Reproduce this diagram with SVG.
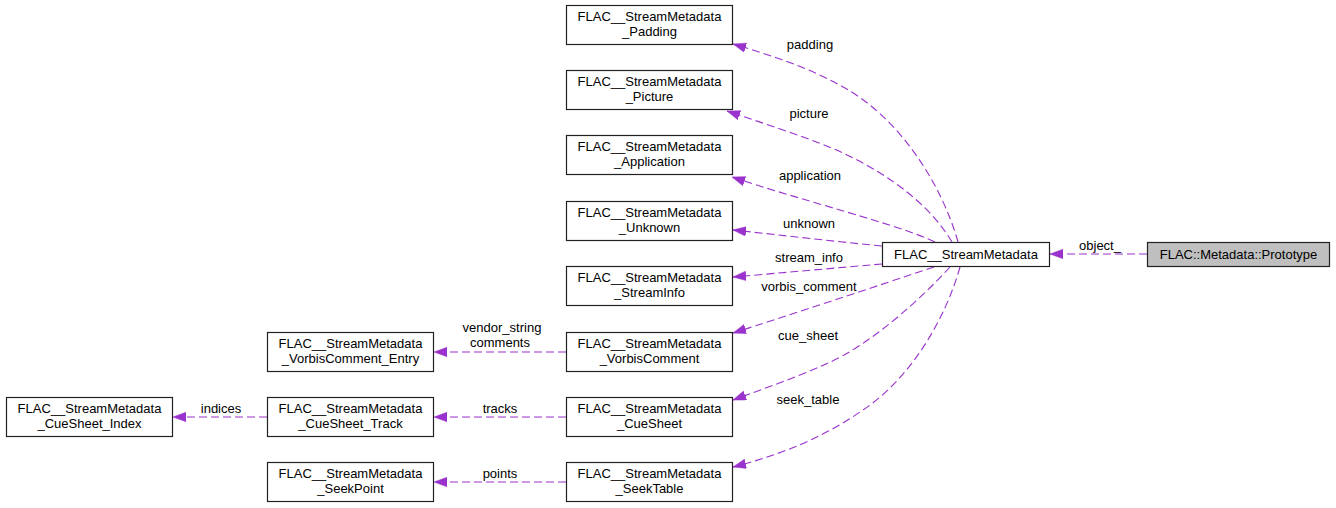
<svg xmlns="http://www.w3.org/2000/svg" width="1336" height="508" viewBox="0 0 1336 508">
<style>
text{font-family:"Liberation Sans",Arial,sans-serif;font-size:13px;fill:#000;text-anchor:middle}
.n rect{fill:#fff;stroke:#222;stroke-width:1.2}
.g rect{fill:#bfbfbf}
.e path{fill:none;stroke:#9a32cd;stroke-width:1.1;stroke-dasharray:8,4;marker-end:url(#arr)}
</style>
<defs>
<marker id="arr" markerUnits="userSpaceOnUse" markerWidth="14" markerHeight="10" refX="13" refY="4.75" orient="auto">
<path d="M0,0 L13,4.75 L0,9.5 z" fill="#9a32cd" stroke="#9a32cd" stroke-width="0.5"/>
</marker>
</defs>
<g id="connectors" class="e">
<path d="M1147,254 L1050,254"/>
<path d="M958,242 C942,185 900,118 843,87 C810,68 770,55 733,44"/>
<path d="M952,242 C930,205 890,175 843,153 C810,138 762,123 727,111"/>
<path d="M935,242 C900,225 800,200 732,177"/>
<path d="M882,246 C830,241 780,235 733,230"/>
<path d="M882,264 C835,268 780,273 733,277"/>
<path d="M934,267 C880,285 790,315 733,333"/>
<path d="M950,267 C920,300 870,345 826,364 C795,378 760,390 733,400"/>
<path d="M960,267 C945,320 910,380 860,412 C822,438 780,455 733,467"/>
<path d="M566,352 L434,352"/>
<path d="M566,417 L434,417"/>
<path d="M566,482 L434,482"/>
<path d="M267,417 L173,417"/>
</g>
<g id="edge-labels">
<text x="1100" y="250">object_</text>
<text x="810" y="49">padding</text>
<text x="809" y="118">picture</text>
<text x="810" y="180">application</text>
<text x="809" y="228">unknown</text>
<text x="809" y="262">stream_info</text>
<text x="809" y="291">vorbis_comment</text>
<text x="808" y="340">cue_sheet</text>
<text x="808" y="404">seek_table</text>
<text x="502" y="332">vendor_string</text>
<text x="500" y="347">comments</text>
<text x="500" y="413">tracks</text>
<text x="500" y="478">points</text>
<text x="221" y="413">indices</text>
</g>
<g id="node-prototype" class="n g"><rect x="1147.5" y="242.5" width="182" height="24"/><text x="1238.5" y="258.5">FLAC::Metadata::Prototype</text></g>
<g id="node-streammetadata" class="n"><rect x="882.5" y="242.5" width="167" height="24"/><text x="966" y="258.5">FLAC__StreamMetadata</text></g>
<g id="node-padding" class="n"><rect x="566.5" y="5.5" width="166" height="39"/><text x="649.5" y="20.5">FLAC__StreamMetadata</text><text x="649.5" y="35.5">_Padding</text></g>
<g id="node-picture" class="n"><rect x="566.5" y="70.5" width="166" height="39"/><text x="649.5" y="85.5">FLAC__StreamMetadata</text><text x="649.5" y="100.5">_Picture</text></g>
<g id="node-application" class="n"><rect x="566.5" y="135.5" width="166" height="39"/><text x="649.5" y="150.5">FLAC__StreamMetadata</text><text x="649.5" y="165.5">_Application</text></g>
<g id="node-unknown" class="n"><rect x="566.5" y="201.5" width="166" height="39"/><text x="649.5" y="216.5">FLAC__StreamMetadata</text><text x="649.5" y="231.5">_Unknown</text></g>
<g id="node-streaminfo" class="n"><rect x="566.5" y="266.5" width="166" height="39"/><text x="649.5" y="281.5">FLAC__StreamMetadata</text><text x="649.5" y="296.5">_StreamInfo</text></g>
<g id="node-vorbiscomment" class="n"><rect x="566.5" y="332.5" width="166" height="39"/><text x="649.5" y="347.5">FLAC__StreamMetadata</text><text x="649.5" y="362.5">_VorbisComment</text></g>
<g id="node-cuesheet" class="n"><rect x="566.5" y="397.5" width="166" height="39"/><text x="649.5" y="412.5">FLAC__StreamMetadata</text><text x="649.5" y="427.5">_CueSheet</text></g>
<g id="node-seektable" class="n"><rect x="566.5" y="462.5" width="166" height="39"/><text x="649.5" y="477.5">FLAC__StreamMetadata</text><text x="649.5" y="492.5">_SeekTable</text></g>
<g id="node-vorbiscomment-entry" class="n"><rect x="267.5" y="332.5" width="166" height="39"/><text x="350.5" y="347.5">FLAC__StreamMetadata</text><text x="350.5" y="362.5">_VorbisComment_Entry</text></g>
<g id="node-cuesheet-track" class="n"><rect x="267.5" y="397.5" width="166" height="39"/><text x="350.5" y="412.5">FLAC__StreamMetadata</text><text x="350.5" y="427.5">_CueSheet_Track</text></g>
<g id="node-seekpoint" class="n"><rect x="267.5" y="462.5" width="166" height="39"/><text x="350.5" y="477.5">FLAC__StreamMetadata</text><text x="350.5" y="492.5">_SeekPoint</text></g>
<g id="node-cuesheet-index" class="n"><rect x="6.5" y="397.5" width="166" height="39"/><text x="89.5" y="412.5">FLAC__StreamMetadata</text><text x="89.5" y="427.5">_CueSheet_Index</text></g>
</svg>
